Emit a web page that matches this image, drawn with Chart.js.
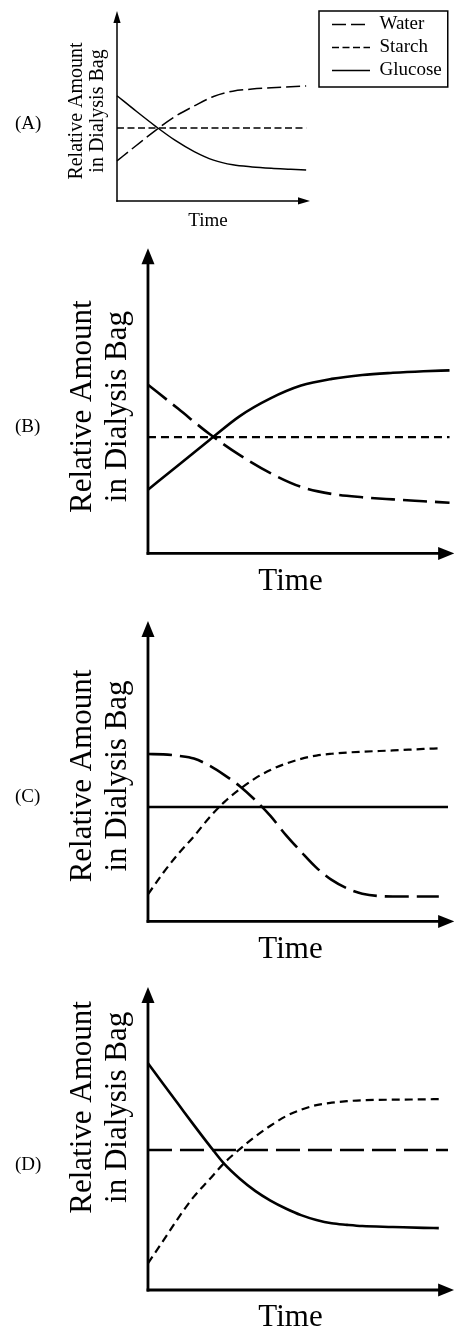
<!DOCTYPE html>
<html>
<head>
<meta charset="utf-8">
<script src="https://cdn.jsdelivr.net/npm/chart.js@4.4.1/dist/chart.umd.min.js"></script>
<style>
html, body { margin: 0; padding: 0; background: #fff; }
body { width: 454px; height: 1332px; position: relative; overflow: hidden; }
canvas { position: absolute; left: 0; }
</style>
</head>
<body>
<canvas id="cA" width="454" height="240" style="top:0px"></canvas>
<canvas id="cB" width="454" height="365" style="top:240px"></canvas>
<canvas id="cC" width="454" height="370" style="top:605px"></canvas>
<canvas id="cD" width="454" height="417" style="top:915px"></canvas>
<script>
// ---------------- DATA (relative amount, 0-100 scale; time 0-100) ----------------
const seriesNames = ['Water', 'Starch', 'Glucose'];
const yTitleLines = ['Relative Amount', 'in Dialysis Bag'];
const xTitle = 'Time';
const panelLabels = ['(A)', '(B)', '(C)', '(D)'];

// Panel A
const timeA    = [0, 10, 20, 30, 40, 50, 60, 70, 80, 90, 98];
const waterA   = [21.1, 29.2, 37.2, 44.4, 50.0, 55.0, 57.8, 58.9, 59.6, 60.1, 60.5];
const starchA  = [38.4, 38.4, 38.4, 38.4, 38.4, 38.4, 38.4, 38.4, 38.4, 38.4, 38.4];
const glucoseA = [55.4, 47.2, 39.3, 32.0, 26.0, 21.5, 19.0, 17.9, 17.2, 16.7, 16.3];

// Panel B
const timeB    = [0, 10, 20, 30, 40, 50, 60, 70, 80, 90, 98.5];
const waterB   = [55.3, 47.3, 39.2, 32.2, 26.3, 21.8, 19.5, 18.4, 17.7, 17.1, 16.6];
const starchB  = [38.1, 38.1, 38.1, 38.1, 38.1, 38.1, 38.1, 38.1, 38.1, 38.1, 38.1];
const glucoseB = [20.9, 29.0, 37.1, 45.0, 50.8, 55.0, 57.2, 58.5, 59.2, 59.7, 60.0];

// Panel C
const timeC    = [0, 5, 10, 15, 20, 25, 30, 35, 40, 45, 50, 55, 60, 65, 70, 80, 90, 95, 98];
const waterC   = [55.7, 55.6, 55.1, 54.2, 51.9, 48.7, 45.0, 40.4, 35.1, 28.8, 23.2, 17.9, 13.8, 11.0, 9.2, 8.3, 8.3, 8.3, null];
const starchC  = [9.0, 16.2, 22.6, 28.3, 34.5, 39.8, 44.0, 47.6, 50.4, 52.5, 54.1, 55.2, 55.8, 56.2, 56.5, 56.9, 57.4, 57.6, null];
const glucoseC = [38.1, 38.1, 38.1, 38.1, 38.1, 38.1, 38.1, 38.1, 38.1, 38.1, 38.1, 38.1, 38.1, 38.1, 38.1, 38.1, 38.1, 38.1, 38.1];

// Panel D
const timeD    = [0, 5, 10, 15, 20, 25, 30, 35, 40, 45, 50, 55, 60, 65, 70, 80, 90, 95, 98];
const waterD   = [46.2, 46.2, 46.2, 46.2, 46.2, 46.2, 46.2, 46.2, 46.2, 46.2, 46.2, 46.2, 46.2, 46.2, 46.2, 46.2, 46.2, 46.2, 46.2];
const starchD  = [8.8, 16.3, 23.9, 30.8, 36.4, 42.0, 46.5, 50.6, 54.2, 57.3, 59.5, 61.0, 61.8, 62.3, 62.6, 62.8, 62.9, 63.0, null];
const glucoseD = [74.8, 68.0, 61.2, 54.4, 47.8, 41.5, 36.7, 32.7, 29.5, 26.9, 24.7, 23.1, 22.0, 21.5, 21.1, 20.8, 20.5, 20.4, null];

// ---------------- STYLE ----------------
const SERIF = '"Liberation Serif", "Times New Roman", Times, serif';
Chart.defaults.font.family = SERIF;
Chart.defaults.color = '#000';

// Axis arrows (drawn from the scales), panel letters and legend frame
const axisArrows = {
  id: 'axisArrows',
  afterLayout(chart, args, opts) {
    if (opts.legendShift && chart.legend && chart.options.plugins.legend.display) {
      const lg = chart.legend;
      lg.left = chart.chartArea.right + opts.legendShift;
      lg.right = chart.width;
      lg.width = lg.right - lg.left;
    }
  },
  afterDraw(chart, args, opts) {
    const ctx = chart.ctx;
    const xs = chart.scales.x, ys = chart.scales.y;
    const x0 = xs.getPixelForValue(0), x1 = xs.getPixelForValue(opts.xArrow);
    const y0 = ys.getPixelForValue(0), y1 = ys.getPixelForValue(opts.yArrow);
    const L = opts.head, W = opts.half;
    ctx.save();
    ctx.strokeStyle = '#000';
    ctx.fillStyle = '#000';
    ctx.lineWidth = opts.width;
    ctx.setLineDash([]);
    // y axis
    ctx.beginPath();
    ctx.moveTo(x0, y0 + opts.width / 2);
    ctx.lineTo(x0, y1 + L * 0.8);
    ctx.stroke();
    ctx.beginPath();
    ctx.moveTo(x0, y1);
    ctx.lineTo(x0 - W, y1 + L);
    ctx.lineTo(x0 + W, y1 + L);
    ctx.closePath();
    ctx.fill();
    // x axis
    ctx.beginPath();
    ctx.moveTo(x0 - opts.width / 2, y0);
    ctx.lineTo(x1 - L * 0.8, y0);
    ctx.stroke();
    ctx.beginPath();
    ctx.moveTo(x1, y0);
    ctx.lineTo(x1 - L, y0 - W);
    ctx.lineTo(x1 - L, y0 + W);
    ctx.closePath();
    ctx.fill();
    // panel letter
    ctx.font = opts.labelSize + 'px ' + SERIF;
    ctx.textAlign = 'left';
    ctx.textBaseline = 'middle';
    ctx.fillText(opts.label, opts.labelX, (y0 + y1) / 2 + opts.labelDy);
    // legend frame
    if (opts.legendBox && chart.legend && chart.legend.legendHitBoxes && chart.legend.legendHitBoxes.length) {
      const hb = chart.legend.legendHitBoxes;
      const l = hb[0].left - 13;
      const t = chart.legend.top;
      const r = Math.max(...hb.map(h => h.left + h.width)) + 6;
      const last = hb[hb.length - 1];
      const b = last.top + last.height + 7;
      ctx.lineWidth = 1.5;
      ctx.strokeRect(l, t, r - l, b - t);
    }
    ctx.restore();
  }
};

function series(label, t, v, dash, w) {
  return {
    label: label,
    data: t.map((x, i) => ({ x: x, y: v[i] })),
    borderColor: '#000',
    backgroundColor: '#000',
    borderWidth: w,
    borderDash: dash,
    pointRadius: 0,
    pointHoverRadius: 0,
    fill: false,
    clip: false,
    capBezierPoints: false,
    tension: 0.4,
    cubicInterpolationMode: 'monotone',
    spanGaps: false
  };
}

function makeChart(id, p) {
  const xScale = {
    type: 'linear', bounds: 'data',
    afterDataLimits: (s) => { s.min = 0; s.max = p.xMax; },
    ticks: { display: false },
    grid: { display: false, drawTicks: false, tickLength: 0 },
    border: { display: false },
    title: {
      display: true, text: xTitle, color: '#000',
      font: { size: p.xFont, lineHeight: 0.6 },
      padding: { top: p.xPadTop, bottom: p.xPadBottom }
    }
  };
  if (p.xReserveRight) {
    xScale.afterFit = (s) => { s.paddingRight = p.xReserveRight; };
  }
  return new Chart(document.getElementById(id), {
    type: 'line',
    data: { datasets: p.datasets },
    options: {
      responsive: false,
      animation: false,
      events: [],
      layout: { padding: { left: 50, top: p.padTop, right: p.padRight, bottom: 0 } },
      scales: {
        x: xScale,
        y: {
          type: 'linear', min: p.yMin, max: p.yMax,
          ticks: { display: false },
          grid: { display: false, drawTicks: false, tickLength: 0 },
          border: { display: false },
          title: {
            display: true, text: yTitleLines, color: '#000',
            font: { size: p.yFont, lineHeight: p.yLH },
            padding: { top: p.yPadTop, bottom: p.yPadBottom }
          }
        }
      },
      plugins: {
        tooltip: { enabled: false },
        legend: p.legend ? {
          display: true, position: 'right', align: 'start',
          labels: {
            usePointStyle: true, pointStyle: 'line', pointStyleWidth: 38,
            padding: 4, color: '#000', font: { size: 19 },
            generateLabels: (chart) => chart.data.datasets.map((ds, i) => ({
              text: ds.label, fillStyle: '#000', strokeStyle: '#000', fontColor: '#000',
              lineWidth: ds.borderWidth, lineDash: ds.borderDash, lineCap: 'butt',
              pointStyle: 'line', rotation: 0, hidden: false, datasetIndex: i
            }))
          }
        } : { display: false },
        axisArrows: {
          width: p.axisW, head: p.head, half: p.half, xArrow: 100, yArrow: 100,
          label: p.label, labelX: 15, labelDy: p.labelDy, labelSize: 19,
          legendBox: !!p.legend, legendShift: p.legend ? p.legendShift : 0
        }
      }
    },
    plugins: [axisArrows]
  });
}

// Panel A
makeChart('cA', {
  datasets: [
    series(seriesNames[0], timeA, waterA, [14, 5], 1.5),
    series(seriesNames[1], timeA, starchA, [7, 3.5], 1.5),
    series(seriesNames[2], timeA, glucoseA, [], 1.5)
  ],
  padTop: 11, padRight: 0, xReserveRight: 155, legend: true, legendShift: 29,
  xMax: 94.3, yMin: -5.3, yMax: 100,
  xFont: 19, xPadTop: 3.9, xPadBottom: 13.7,
  yFont: 20, yLH: 1.05, yPadTop: 15.8, yPadBottom: 9.2,
  axisW: 1.5, head: 12, half: 3.6,
  label: panelLabels[0], labelDy: 18
});

// Panel B
makeChart('cB', {
  datasets: [
    series(seriesNames[0], timeB, waterB, [24, 8], 2.6),
    series(seriesNames[1], timeB, starchB, [8, 5], 2.2),
    series(seriesNames[2], timeB, glucoseB, [], 2.6)
  ],
  padTop: 8.3, padRight: 21, legend: false,
  xMax: 93.1, yMin: -3.8, yMax: 100,
  xFont: 31, xPadTop: 7.2, xPadBottom: 14.2,
  yFont: 31, yLH: 1.14, yPadTop: 14.8, yPadBottom: 12.5,
  axisW: 2.8, head: 16, half: 6.5,
  label: panelLabels[1], labelDy: 26
});

// Panel C
makeChart('cC', {
  datasets: [
    series(seriesNames[0], timeC, waterC, [24, 8], 2.6),
    series(seriesNames[1], timeC, starchC, [8, 5], 2.2),
    series(seriesNames[2], timeC, glucoseC, [], 2.6)
  ],
  padTop: 16, padRight: 21, legend: false,
  xMax: 93.1, yMin: -3.2, yMax: 100,
  xFont: 31, xPadTop: 9.2, xPadBottom: 16.2,
  yFont: 31, yLH: 1.14, yPadTop: 14.8, yPadBottom: 12.5,
  axisW: 2.8, head: 16, half: 6.5,
  label: panelLabels[2], labelDy: 25.5
});

// Panel D
makeChart('cD', {
  datasets: [
    series(seriesNames[0], timeD, waterD, [24, 8], 2.6),
    series(seriesNames[1], timeD, starchD, [8, 5], 2.2),
    series(seriesNames[2], timeD, glucoseD, [], 2.6)
  ],
  padTop: 9.8, padRight: 21, legend: false,
  xMax: 93.1, yMin: 0, yMax: 120.5,
  xFont: 31, xPadTop: 18.2, xPadBottom: 5.2,
  yFont: 31, yLH: 1.14, yPadTop: 14.8, yPadBottom: 12.5,
  axisW: 2.8, head: 16, half: 6.5,
  label: panelLabels[3], labelDy: 27
});
</script>
</body>
</html>
